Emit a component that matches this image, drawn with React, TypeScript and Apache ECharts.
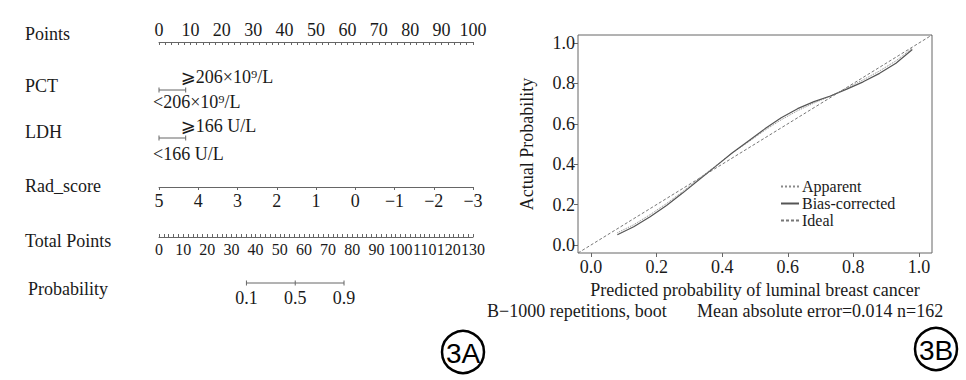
import React, { useEffect, useRef } from "react";
import * as echarts from "echarts";

// ---------- data ----------
const rowLabels = ["Points", "PCT", "LDH", "Rad_score", "Total Points", "Probability"];
const pointsRange = [0, 100];
const pctLevels = ["<206×10⁹/L", "⩾206×10⁹/L"];
const pctPoints = [0, 8.5];
const ldhLevels = ["<166 U/L", "⩾166 U/L"];
const ldhPoints = [0, 8.5];
const radScoreRange = [-3, 5];
const totalPointsRange = [0, 130];
const totalPointsTicks = [0, 10, 20, 30, 40, 50, 60, 70, 80, 90, 100, 110, 120, 130];
const probLabels = [0.1, 0.5, 0.9];
const probTotalPoints = [36.2, 56.4, 76.6];

const predicted = [0.08, 0.13, 0.18, 0.23, 0.28, 0.33, 0.38, 0.43, 0.48, 0.53, 0.58, 0.63, 0.68, 0.73, 0.78, 0.83, 0.88, 0.93, 0.98];
const biasCorrected = [0.05, 0.09, 0.14, 0.195, 0.258, 0.324, 0.389, 0.455, 0.515, 0.575, 0.63, 0.675, 0.71, 0.738, 0.772, 0.808, 0.85, 0.9, 0.968];
const apparent = [0.06, 0.1, 0.15, 0.205, 0.265, 0.33, 0.392, 0.455, 0.51, 0.568, 0.62, 0.665, 0.703, 0.737, 0.777, 0.818, 0.862, 0.912, 0.975];
const idealEnds = [-0.04, 1.04];
const calTicks = [0, 0.2, 0.4, 0.6, 0.8, 1.0];
const calRange = [-0.04, 1.04];
const legendNames = ["Apparent", "Bias-corrected", "Ideal"];
const subtitleLeft = "B−1000 repetitions, boot";
const subtitleRight = "Mean absolute error=0.014 n=162";
const panelTags = ["3A", "3B"];

// ---------- style ----------
const FONT = "'Liberation Serif', 'Times New Roman', 'DejaVu Serif', 'DejaVu Sans', serif";
const TEXT = "#1a1a1a";
const LINE = "#666";
const FS = 18;

const NOMO_LEFT = 159;
const NOMO_WIDTH = 314;
const rowLineY = [42, 90, 138, 187, 237, 283];
const rowLabelY = [35, 87, 133, 187, 242, 290];

const baseLabel = { fontFamily: FONT, fontSize: FS, color: TEXT };

function nomoGrid(y: number) {
  return { left: NOMO_LEFT, width: NOMO_WIDTH, top: y - 1, height: 2 };
}
function hiddenY(i: number) {
  return { gridIndex: i, type: "value", min: -1, max: 1, show: false };
}
function hiddenX(i: number, range: number[]) {
  return {
    gridIndex: i, type: "value", min: range[0], max: range[1],
    axisLine: { show: false, onZero: false }, axisTick: { show: false },
    axisLabel: { show: false }, splitLine: { show: false },
  };
}
const minus = (v: number) => (v < 0 ? "−" + Math.abs(v) : String(v));

function catSeries(idx: number, pts: number[], names: string[], offs: number[][]) {
  return {
    type: "line", xAxisIndex: idx, yAxisIndex: idx, silent: true,
    data: pts.map((p, i) => ({ value: [p, 0], label: { offset: offs[i] } })),
    symbol: "rect", symbolSize: [1, 5], showSymbol: true,
    itemStyle: { color: LINE }, lineStyle: { color: LINE, width: 1 },
    label: {
      show: true, position: "inside", align: "left", verticalAlign: "middle",
      formatter: (p: any) => names[p.dataIndex], ...baseLabel,
    },
  };
}

function buildOption() {
  const grids: any[] = [
    { left: NOMO_LEFT, width: NOMO_WIDTH, top: rowLineY[0], height: 1 },
    nomoGrid(rowLineY[1]),
    nomoGrid(rowLineY[2]),
    { left: NOMO_LEFT, width: NOMO_WIDTH, top: rowLineY[3] - 1, height: 1 },
    { left: NOMO_LEFT, width: NOMO_WIDTH, top: rowLineY[4] - 1, height: 1 },
    nomoGrid(rowLineY[5]),
    { left: 578, top: 35, width: 354, height: 218, show: true, borderColor: LINE, borderWidth: 1, backgroundColor: "transparent" },
  ];

  const xAxes: any[] = [
    {
      gridIndex: 0, type: "value", min: pointsRange[0], max: pointsRange[1], interval: 10, position: "top",
      axisLine: { onZero: false, lineStyle: { color: LINE } },
      axisTick: { inside: true, length: 3, lineStyle: { color: LINE } },
      minorTick: { show: true, splitNumber: 5, length: 3, lineStyle: { color: LINE } },
      axisLabel: { margin: 3, showMinLabel: true, showMaxLabel: true, ...baseLabel }, splitLine: { show: false },
    },
    hiddenX(1, pointsRange),
    hiddenX(2, pointsRange),
    {
      gridIndex: 3, type: "value", min: radScoreRange[0], max: radScoreRange[1], interval: 1, inverse: true, position: "bottom",
      axisLine: { onZero: false, lineStyle: { color: LINE } },
      axisTick: { length: 3, lineStyle: { color: LINE } },
      axisLabel: { margin: 5, showMinLabel: true, showMaxLabel: true, formatter: minus, ...baseLabel }, splitLine: { show: false },
    },
    {
      gridIndex: 4, type: "value", min: totalPointsRange[0], max: totalPointsRange[1], interval: 10, position: "bottom",
      axisLine: { onZero: false, lineStyle: { color: LINE } },
      axisTick: { inside: true, length: 3, lineStyle: { color: LINE } },
      minorTick: { show: true, splitNumber: 5, length: 3, lineStyle: { color: LINE } },
      axisLabel: {
        margin: 4, customValues: totalPointsTicks, showMinLabel: true, showMaxLabel: true, hideOverlap: false,
        ...baseLabel, fontSize: 16,
      },
      splitLine: { show: false },
    },
    hiddenX(5, totalPointsRange),
    {
      gridIndex: 6, type: "value", min: calRange[0], max: calRange[1],
      axisLine: { show: false, onZero: false },
      axisTick: { show: true, length: 4, customValues: calTicks, lineStyle: { color: LINE } },
      axisLabel: { customValues: calTicks, formatter: (v: number) => v.toFixed(1), margin: 5, ...baseLabel },
      splitLine: { show: false },
      name: "Predicted probability of luminal breast cancer", nameLocation: "middle", nameGap: 28,
      nameTextStyle: { ...baseLabel },
    },
  ];

  const yAxes: any[] = [0, 1, 2, 3, 4, 5].map(hiddenY);
  yAxes.push({
    gridIndex: 6, type: "value", min: calRange[0], max: calRange[1],
    axisLine: { show: false, onZero: false },
    axisTick: { show: true, length: 4, customValues: calTicks, lineStyle: { color: LINE } },
    axisLabel: { customValues: calTicks, formatter: (v: number) => v.toFixed(1), margin: 3, ...baseLabel },
    splitLine: { show: false },
    name: "Actual Probability", nameLocation: "middle", nameGap: 42, nameTextStyle: { ...baseLabel },
  });

  const series: any[] = [
    catSeries(1, pctPoints, pctLevels, [[-6, 12], [-5, -13]]),
    catSeries(2, ldhPoints, ldhLevels, [[-6, 16], [-5, -12]]),
    {
      type: "line", xAxisIndex: 5, yAxisIndex: 5, silent: true,
      data: probTotalPoints.map((t) => [t, 0]),
      symbol: "rect", symbolSize: [1, 5], showSymbol: true,
      itemStyle: { color: LINE }, lineStyle: { color: LINE, width: 1 },
      label: {
        show: true, position: "inside", align: "center", verticalAlign: "middle", offset: [0, 15],
        formatter: (p: any) => probLabels[p.dataIndex].toFixed(1), ...baseLabel,
      },
    },
    {
      name: legendNames[0], type: "line", xAxisIndex: 6, yAxisIndex: 6, silent: true,
      data: predicted.map((x, i) => [x, apparent[i]]), symbol: "none",
      lineStyle: { type: "dotted", color: "#8a8a8a", width: 1 }, itemStyle: { color: "#8a8a8a" },
    },
    {
      name: legendNames[1], type: "line", xAxisIndex: 6, yAxisIndex: 6, silent: true,
      data: predicted.map((x, i) => [x, biasCorrected[i]]), symbol: "none",
      lineStyle: { type: "solid", color: "#555", width: 1.2 }, itemStyle: { color: "#555" },
    },
    {
      name: legendNames[2], type: "line", xAxisIndex: 6, yAxisIndex: 6, silent: true,
      data: idealEnds.map((v) => [v, v]), symbol: "none",
      lineStyle: { type: [3, 2], color: "#777", width: 1 }, itemStyle: { color: "#777" },
    },
  ];

  const graphics: any[] = rowLabels.map((t, i) => ({
    type: "text", left: i === 5 ? 28 : 25, top: rowLabelY[i] - 10,
    style: { text: t, font: `${FS}px ${FONT}`, fill: TEXT },
  }));
  graphics.push(
    { type: "text", x: 487, y: 311, style: { text: subtitleLeft, font: `${FS}px ${FONT}`, fill: TEXT, verticalAlign: "middle" } },
    { type: "text", x: 697, y: 311, style: { text: subtitleRight, font: `${FS}px ${FONT}`, fill: TEXT, verticalAlign: "middle" } },
    { type: "circle", shape: { cx: 463, cy: 352, r: 21 }, style: { fill: "none", stroke: "#000", lineWidth: 2.5 } },
    { type: "text", x: 463, y: 353, style: { text: panelTags[0], font: "28px 'Liberation Sans', Arial, sans-serif", fill: "#000", align: "center", verticalAlign: "middle" } },
    { type: "circle", shape: { cx: 936, cy: 349, r: 21 }, style: { fill: "none", stroke: "#000", lineWidth: 2.5 } },
    { type: "text", x: 936, y: 350, style: { text: panelTags[1], font: "28px 'Liberation Sans', Arial, sans-serif", fill: "#000", align: "center", verticalAlign: "middle" } },
  );

  return {
    animation: false,
    backgroundColor: "#fff",
    grid: grids,
    xAxis: xAxes,
    yAxis: yAxes,
    series,
    legend: {
      data: legendNames, orient: "vertical", left: 780, top: 178, padding: 0,
      itemWidth: 18, itemHeight: 8, itemGap: 0, selectedMode: false,
      itemStyle: { opacity: 0 },
      textStyle: { ...baseLabel, fontSize: 16, lineHeight: 17, padding: [0, 0, 0, -2] },
    },
    graphic: graphics,
  };
}

export default function App() {
  const ref = useRef<HTMLDivElement>(null);
  useEffect(() => {
    const chart = echarts.init(ref.current!, null, { renderer: "svg" });
    chart.setOption(buildOption() as any);
    return () => chart.dispose();
  }, []);
  return (
    <div
      ref={ref}
      style={{ position: "fixed", left: 0, top: 0, width: 966, height: 380, background: "#fff" }}
    />
  );
}
